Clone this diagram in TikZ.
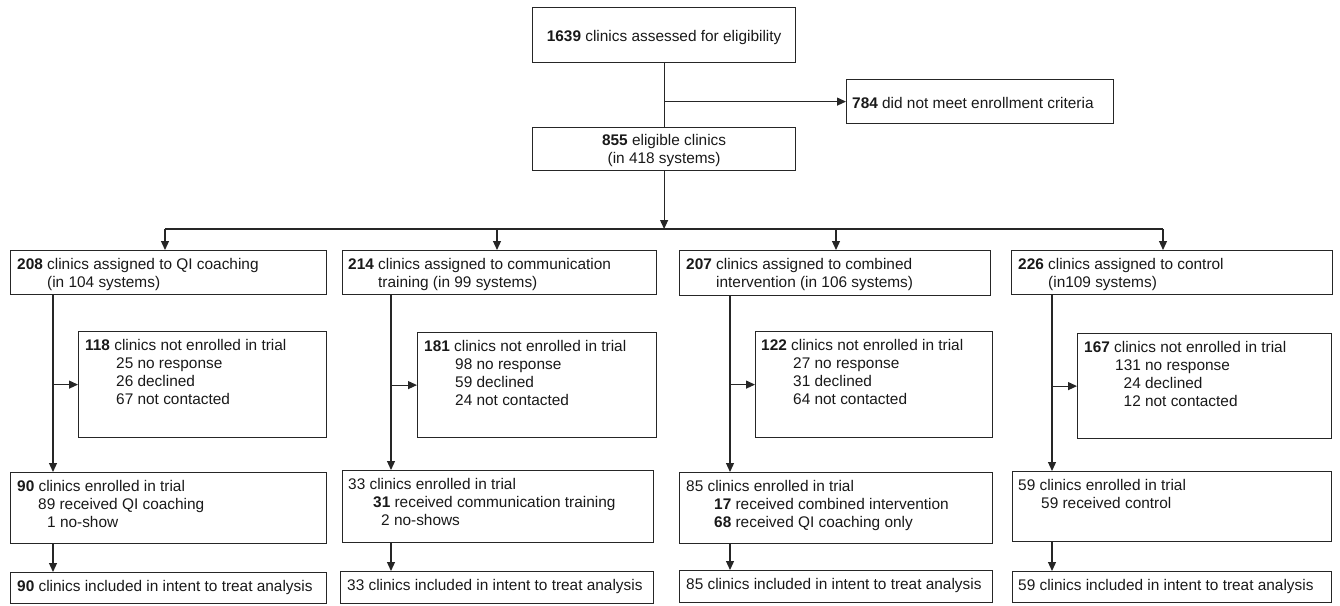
\documentclass[tikz,border=0pt]{standalone}
\usepackage{fontspec}
\setmainfont{Liberation Sans}
\usetikzlibrary{arrows.meta,calc}
\newcommand\mybox[6][]{\node[box,minimum width=#5pt,minimum height=#6pt,#1] (#2) at (#3,#4) {};}
\begin{document}
\begin{tikzpicture}[x=1pt,y=-1pt,
  box/.style={draw=black!85, line width=1.2pt, inner sep=0pt, anchor=north west, rectangle},
  txt/.style={anchor=north west, inner sep=0pt, align=left, text=black!90, font=\fontsize{15.4}{18}\selectfont},
  ln/.style={draw=black!85, line width=1.2pt},
  arr/.style={draw=black!85, line width=1.2pt, -{Triangle[length=9pt,width=8pt]}}]
\useasboundingbox (0,0) rectangle (1340,605);

% top part
\mybox{top}{532}{7}{263}{55}
\node[txt, anchor=center, align=center] (ttop) at ($(top.center)+(0,2)$) {\textbf{1639} clinics assessed for eligibility};
\mybox{exc}{846}{79}{267}{44}
\node[txt, anchor=west] (texc) at ($(exc.west)+(6,1)$) {\textbf{784} did not meet enrollment criteria};
\mybox{elig}{532}{127}{263}{43}
\node[txt, anchor=center, align=center] (telig) at ($(elig.center)+(0,1)$) {\textbf{855} eligible clinics\\(in 418 systems)};

% assigned boxes
\mybox{a1}{10}{250}{316}{44}
\mybox{a2}{342}{250}{314}{44}
\mybox{a3}{679}{250}{311}{45}
\mybox{a4}{1011}{250}{321}{44}
\node[txt] (ta1) at ($(a1.north west)+(7,8)$) {\textbf{208} clinics assigned to QI coaching\\\hspace*{30pt}(in 104 systems)};
\node[txt] (ta2) at ($(a2.north west)+(6,8)$) {\textbf{214} clinics assigned to communication\\\hspace*{30pt}training (in 99 systems)};
\node[txt] (ta3) at ($(a3.north west)+(7,8)$) {\textbf{207} clinics assigned to combined\\\hspace*{30pt}intervention (in 106 systems)};
\node[txt] (ta4) at ($(a4.north west)+(7,8)$) {\textbf{226} clinics assigned to control\\\hspace*{30pt}(in109 systems)};

% not enrolled boxes
\mybox{n1}{78}{331}{248}{106}
\mybox{n2}{417}{332}{239}{105}
\mybox{n3}{755}{331}{237}{106}
\mybox{n4}{1077}{333}{254}{105}
\node[txt] (tn1) at ($(n1.north west)+(7,8)$) {\textbf{118} clinics not enrolled in trial\\\hspace*{31pt}25 no response\\\hspace*{31pt}26 declined\\\hspace*{31pt}67 not contacted};
\node[txt] (tn2) at ($(n2.north west)+(7,8)$) {\textbf{181} clinics not enrolled in trial\\\hspace*{31pt}98 no response\\\hspace*{31pt}59 declined\\\hspace*{31pt}24 not contacted};
\node[txt] (tn3) at ($(n3.north west)+(6,8)$) {\textbf{122} clinics not enrolled in trial\\\hspace*{32pt}27 no response\\\hspace*{32pt}31 declined\\\hspace*{32pt}64 not contacted};
\node[txt] (tn4) at ($(n4.north west)+(7,8)$) {\textbf{167} clinics not enrolled in trial\\\hspace*{31pt}131 no response\\\hspace*{39.5pt}24 declined\\\hspace*{39.5pt}12 not contacted};

% enrolled boxes
\mybox{e1}{10}{472}{316}{71}
\mybox{e2}{342}{470}{311}{72}
\mybox{e3}{679}{472}{313}{71}
\mybox{e4}{1012}{471}{319}{70}
\node[txt] (te1) at ($(e1.north west)+(7,8)$) {\textbf{90} clinics enrolled in trial\\\hspace*{21pt}89 received QI coaching\\\hspace*{30pt}1 no-show};
\node[txt] (te2) at ($(e2.north west)+(6,8)$) {33 clinics enrolled in trial\\\hspace*{25pt}\textbf{31} received communication training\\\hspace*{33pt}2 no-shows};
\node[txt] (te3) at ($(e3.north west)+(7,8)$) {85 clinics enrolled in trial\\\hspace*{28pt}\textbf{17} received combined intervention\\\hspace*{28pt}\textbf{68} received QI coaching only};
\node[txt] (te4) at ($(e4.north west)+(6,8)$) {59 clinics enrolled in trial\\\hspace*{23pt}59 received control};

% ITT boxes
\mybox{i1}{10}{572}{316}{31}
\mybox{i2}{340}{571}{313}{32}
\mybox{i3}{679}{570}{313}{32}
\mybox{i4}{1012}{571}{319}{31}
\node[txt] (ti1) at ($(i1.north west)+(7,8)$) {\textbf{90} clinics included in intent to treat analysis};
\node[txt] (ti2) at ($(i2.north west)+(7,8)$) {33 clinics included in intent to treat analysis};
\node[txt] (ti3) at ($(i3.north west)+(7,8)$) {85 clinics included in intent to treat analysis};
\node[txt] (ti4) at ($(i4.north west)+(6,8)$) {59 clinics included in intent to treat analysis};

% connectors top
\draw[ln] (top.south) -- (elig.north);
\coordinate (br) at (top.south |- exc.west);
\draw[arr] (br) -- (exc.west);
\coordinate (d1) at (165,229);
\coordinate (d2) at (497,229);
\coordinate (d3) at (836,229);
\coordinate (d4) at (1163,229);
\draw[arr] (elig.south) -- (elig.south |- d1);
\draw[ln] (d1) -- (d4);
\draw[arr] (d1) -- (d1 |- a1.north);
\draw[arr] (d2) -- (d2 |- a2.north);
\draw[arr] (d3) -- (d3 |- a3.north);
\draw[arr] (d4) -- (d4 |- a4.north);

% column connectors
\coordinate (v1) at (53,0);
\coordinate (v2) at (391,0);
\coordinate (v3) at (730,0);
\coordinate (v4) at (1052,0);
\foreach \k in {1,2,3,4}{
  \draw[arr] (a\k.south -| v\k) -- (e\k.north -| v\k);
  \draw[arr] (n\k.west -| v\k) -- (n\k.west);
  \draw[arr] (e\k.south -| v\k) -- (i\k.north -| v\k);
}
\end{tikzpicture}
\end{document}
